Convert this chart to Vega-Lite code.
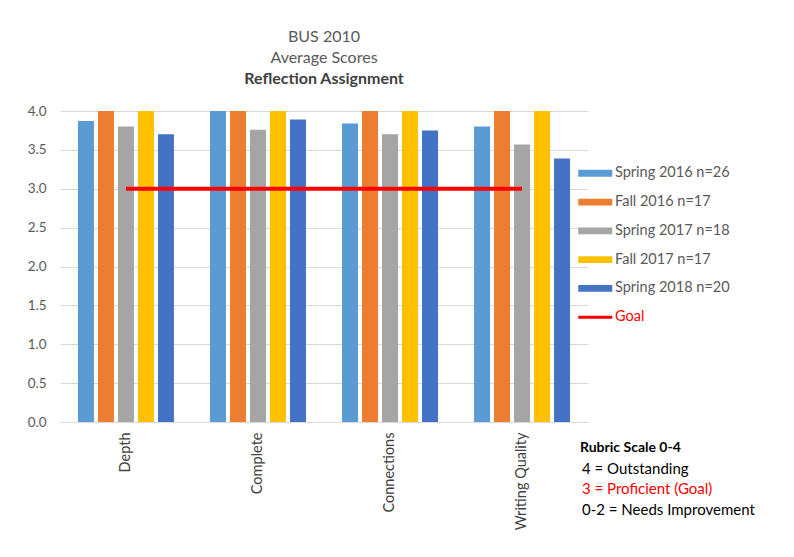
{
  "$schema": "https://vega.github.io/schema/vega-lite/v6.json",
  "width": 528,
  "height": 311,
  "autosize": {"type": "none"},
  "padding": {"left": 60, "top": 111, "right": 206, "bottom": 135},
  "background": "white",
  "title": {
    "text": ["BUS 2010", "Average Scores"],
    "subtitle": "Reflection Assignment",
    "anchor": "middle",
    "fontSize": 16,
    "fontWeight": "normal",
    "color": "#595959",
    "lineHeight": 21,
    "subtitleFontSize": 16,
    "subtitleFontWeight": "bold",
    "subtitleColor": "#404040",
    "subtitlePadding": 5,
    "offset": 17
  },
  "config": {
    "font": "Lato",
    "view": {"stroke": null}
  },
  "layer": [
    {
      "data": {
        "values": [
          {"category": "Depth", "series": "Spring 2016 n=26", "value": 3.87},
          {"category": "Depth", "series": "Fall 2016 n=17", "value": 4.0},
          {"category": "Depth", "series": "Spring 2017 n=18", "value": 3.8},
          {"category": "Depth", "series": "Fall 2017 n=17", "value": 4.0},
          {"category": "Depth", "series": "Spring 2018 n=20", "value": 3.7},
          {"category": "Complete", "series": "Spring 2016 n=26", "value": 4.0},
          {"category": "Complete", "series": "Fall 2016 n=17", "value": 4.0},
          {"category": "Complete", "series": "Spring 2017 n=18", "value": 3.76},
          {"category": "Complete", "series": "Fall 2017 n=17", "value": 4.0},
          {"category": "Complete", "series": "Spring 2018 n=20", "value": 3.89},
          {"category": "Connections", "series": "Spring 2016 n=26", "value": 3.84},
          {"category": "Connections", "series": "Fall 2016 n=17", "value": 4.0},
          {"category": "Connections", "series": "Spring 2017 n=18", "value": 3.7},
          {"category": "Connections", "series": "Fall 2017 n=17", "value": 4.0},
          {"category": "Connections", "series": "Spring 2018 n=20", "value": 3.75},
          {"category": "Writing Quality", "series": "Spring 2016 n=26", "value": 3.8},
          {"category": "Writing Quality", "series": "Fall 2016 n=17", "value": 4.0},
          {"category": "Writing Quality", "series": "Spring 2017 n=18", "value": 3.57},
          {"category": "Writing Quality", "series": "Fall 2017 n=17", "value": 4.0},
          {"category": "Writing Quality", "series": "Spring 2018 n=20", "value": 3.39}
        ]
      },
      "mark": {"type": "bar"},
      "encoding": {
        "x": {
          "field": "category",
          "type": "nominal",
          "title": null,
          "scale": {
            "domain": ["Depth", "Complete", "Connections", "Writing Quality"],
            "paddingInner": 0.273,
            "paddingOuter": 0.136
          },
          "axis": {
            "labelAngle": -90,
            "labelFontSize": 14.5,
            "labelColor": "#404040",
            "labelPadding": 10,
            "ticks": false,
            "grid": false,
            "domainColor": "#d9d9d9"
          }
        },
        "xOffset": {
          "field": "series",
          "type": "nominal",
          "scale": {
            "domain": ["Spring 2016 n=26", "Fall 2016 n=17", "Spring 2017 n=18", "Fall 2017 n=17", "Spring 2018 n=20"],
            "paddingInner": 0.2,
            "paddingOuter": 0
          }
        },
        "y": {
          "field": "value",
          "type": "quantitative",
          "title": null,
          "scale": {"domain": [0, 4], "nice": false},
          "axis": {
            "values": [0, 0.5, 1, 1.5, 2, 2.5, 3, 3.5, 4],
            "format": ".1f",
            "domain": false,
            "ticks": false,
            "gridColor": "#d9d9d9",
            "labelFontSize": 13.5,
            "labelColor": "#595959",
            "labelPadding": 14,
            "labelOverlap": false
          }
        },
        "color": {
          "field": "series",
          "type": "nominal",
          "scale": {
            "domain": ["Spring 2016 n=26", "Fall 2016 n=17", "Spring 2017 n=18", "Fall 2017 n=17", "Spring 2018 n=20", "Goal"],
            "range": ["#5b9bd5", "#ed7d31", "#a5a5a5", "#ffc000", "#4472c4", "#ff0000"]
          },
          "legend": {
            "title": null,
            "orient": "none",
            "legendX": 528,
            "legendY": 55,
            "symbolSize": 289,
            "labelOffset": 12.5,
            "rowPadding": 13.8,
            "labelFontSize": 14.5,
            "labelColor": "#595959",
            "encode": {
              "symbols": {
                "update": {
                  "shape": {"signal": "datum.value === 'Goal' ? 'M-2,0H2' : 'M-2,-0.4H2V0.4H-2Z'"},
                  "fill": {"signal": "datum.value === 'Goal' ? 'transparent' : scale('color', datum.value)"},
                  "stroke": {"signal": "scale('color', datum.value)"},
                  "strokeWidth": {"signal": "datum.value === 'Goal' ? 3 : 0"},
                  "opacity": {"value": 1}
                }
              },
              "labels": {
                "update": {
                  "fill": {"signal": "datum.value === 'Goal' ? '#ff0000' : '#595959'"}
                }
              }
            }
          }
        }
      }
    },
    {
      "data": {
        "values": [
          {"start": "Depth", "end": "Writing Quality", "value": 3, "series": "Goal"}
        ]
      },
      "mark": {"type": "rule", "strokeWidth": 4},
      "encoding": {
        "x": {
          "field": "start",
          "type": "nominal",
          "title": null,
          "axis": {
            "labelAngle": -90,
            "labelFontSize": 14.5,
            "labelColor": "#404040",
            "labelPadding": 10,
            "ticks": false,
            "grid": false,
            "domainColor": "#d9d9d9"
          }
        },
        "x2": {"field": "end"},
        "y": {
          "field": "value",
          "type": "quantitative",
          "title": null,
          "axis": {
            "values": [0, 0.5, 1, 1.5, 2, 2.5, 3, 3.5, 4],
            "format": ".1f",
            "domain": false,
            "ticks": false,
            "gridColor": "#d9d9d9",
            "labelFontSize": 13.5,
            "labelColor": "#595959",
            "labelPadding": 14,
            "labelOverlap": false
          }
        },
        "color": {"field": "series", "type": "nominal"}
      }
    },
    {
      "data": {
        "values": [
          {"rubric": "\u00a04 = Outstanding"},
          {"rubric": "3 = Proficient (Goal)"},
          {"rubric": "0-2 = Needs Improvement"}
        ]
      },
      "mark": {"type": "point", "opacity": 0, "size": 0},
      "encoding": {
        "shape": {
          "field": "rubric",
          "type": "nominal",
          "scale": {"domain": ["\u00a04 = Outstanding", "3 = Proficient (Goal)", "0-2 = Needs Improvement"]},
          "legend": {
            "title": "Rubric Scale 0-4",
            "orient": "none",
            "legendX": 520,
            "legendY": 330,
            "titleFontSize": 14,
            "titleFontWeight": "bold",
            "titleColor": "#000000",
            "titlePadding": 6,
            "labelFontSize": 15,
            "labelColor": {"expr": "datum.label === '3 = Proficient (Goal)' ? '#ff0000' : '#000000'"},
            "labelLimit": 400,
            "labelOffset": -13,
            "symbolSize": 0,
            "symbolOpacity": 0,
            "symbolStrokeWidth": 0,
            "rowPadding": 4.5
          }
        }
      }
    }
  ]
}
